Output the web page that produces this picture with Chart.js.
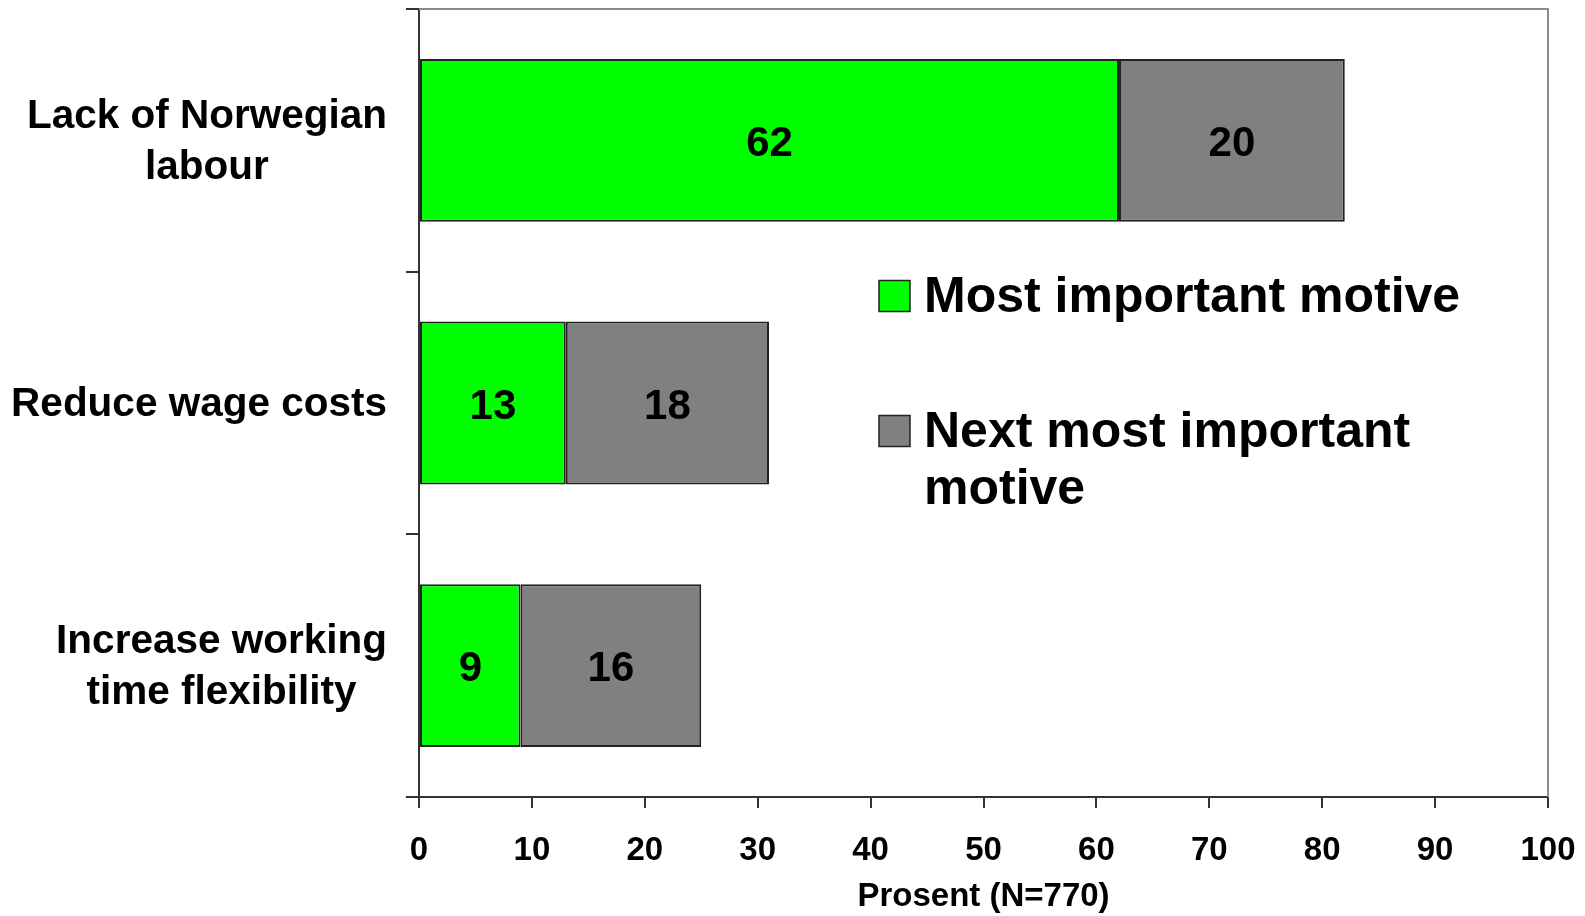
<!DOCTYPE html>
<html>
<head>
<meta charset="utf-8">
<title>Motives for hiring foreign labour</title>
<script src="https://cdn.jsdelivr.net/npm/chart.js@4.4.1/dist/chart.umd.min.js"></script>
<style>
  html, body { margin: 0; padding: 0; background: #ffffff; }
  #wrap { width: 1585px; height: 916px; }
</style>
</head>
<body>
<div id="wrap"><canvas id="chart" width="1585" height="916"></canvas></div>
<script>
// Categories (each entry is the wrapped lines of one label)
const categories = [
  ['Lack of Norwegian', 'labour'],
  ['Reduce wage costs'],
  ['Increase working', 'time flexibility']
];

// Share of firms (per cent) naming each motive
const mostImportant = [62, 13, 9];
const nextMostImportant = [20, 18, 16];

// Legend texts (wrapped lines)
const seriesNames = [
  ['Most important motive'],
  ['Next most important', 'motive']
];

const xTicks = [0, 10, 20, 30, 40, 50, 60, 70, 80, 90, 100];
const xTitle = 'Prosent (N=770)';

const FONT = '"Liberation Sans", Arial, Helvetica, sans-serif';

// Category labels: block right-aligned against the axis, lines centred within the block
const categoryLabels = {
  id: 'categoryLabels',
  afterDraw(chart) {
    const ctx = chart.ctx;
    const y = chart.scales.y;
    const rightEdge = 387;
    const lh = 51;
    ctx.save();
    ctx.font = 'bold 40.5px ' + FONT;
    ctx.fillStyle = '#000';
    ctx.textAlign = 'center';
    ctx.textBaseline = 'middle';
    categories.forEach((lines, i) => {
      const widest = Math.max(...lines.map(l => ctx.measureText(l).width));
      const cx = rightEdge - widest / 2;
      const cy = y.getPixelForTick(i) + 2;
      const y0 = cy - (lines.length - 1) * lh / 2;
      lines.forEach((l, k) => ctx.fillText(l, cx, y0 + k * lh));
    });
    ctx.restore();
  }
};

// Value written in the middle of every bar segment
const valueLabels = {
  id: 'valueLabels',
  afterDatasetsDraw(chart) {
    const ctx = chart.ctx;
    ctx.save();
    ctx.font = 'bold 42px ' + FONT;
    ctx.fillStyle = '#000';
    ctx.textAlign = 'center';
    ctx.textBaseline = 'middle';
    chart.data.datasets.forEach((ds, di) => {
      chart.getDatasetMeta(di).data.forEach((bar, i) => {
        const p = bar.getCenterPoint();
        ctx.fillText(String(ds.data[i]), p.x, p.y + 4);
      });
    });
    ctx.restore();
  }
};

// Grey frame on the top and right of the plot area
const plotFrame = {
  id: 'plotFrame',
  beforeDatasetsDraw(chart) {
    const { ctx, chartArea: a } = chart;
    ctx.save();
    ctx.strokeStyle = '#8c8c8c';
    ctx.lineWidth = 2;
    ctx.beginPath();
    ctx.moveTo(a.left, a.top);
    ctx.lineTo(a.right, a.top);
    ctx.lineTo(a.right, a.bottom);
    ctx.stroke();
    ctx.restore();
  }
};

// Legend placed inside the plot area
const innerLegend = {
  id: 'innerLegend',
  afterDraw(chart) {
    const ctx = chart.ctx;
    const a = chart.chartArea;
    const boxX = a.left + 460;
    const textX = a.left + 505;
    const rows = [296, 431];
    const lh = 57;
    const box = 31;
    ctx.save();
    ctx.font = 'bold 50px ' + FONT;
    ctx.textAlign = 'left';
    ctx.textBaseline = 'middle';
    chart.data.datasets.forEach((ds, i) => {
      const cy = rows[i];
      ctx.fillStyle = ds.backgroundColor;
      ctx.fillRect(boxX, cy - box / 2, box, box);
      ctx.strokeStyle = '#222';
      ctx.lineWidth = 1.5;
      ctx.strokeRect(boxX, cy - box / 2, box, box);
      ctx.fillStyle = '#000';
      seriesNames[i].forEach((l, k) => ctx.fillText(l, textX, cy + k * lh + 2));
    });
    ctx.restore();
  }
};

new Chart(document.getElementById('chart'), {
  type: 'bar',
  data: {
    labels: categories.map(c => c.join(' ')),
    datasets: [
      {
        label: seriesNames[0].join(' '),
        data: mostImportant,
        backgroundColor: '#00ff00',
        borderColor: '#222222',
        borderWidth: 2,
        borderSkipped: false,
        barPercentage: 0.62,
        categoryPercentage: 1
      },
      {
        label: seriesNames[1].join(' '),
        data: nextMostImportant,
        backgroundColor: '#808080',
        borderColor: '#222222',
        borderWidth: 2,
        borderSkipped: false,
        barPercentage: 0.62,
        categoryPercentage: 1
      }
    ]
  },
  options: {
    indexAxis: 'y',
    responsive: false,
    animation: false,
    devicePixelRatio: 1,
    layout: { padding: { top: 9, right: 37, left: 0, bottom: 0 } },
    plugins: {
      legend: { display: false },
      tooltip: { enabled: false }
    },
    scales: {
      x: {
        stacked: true,
        min: 0,
        max: 100,
        afterBuildTicks(scale) {
          scale.ticks = xTicks.map(v => ({ value: v }));
        },
        afterFit(scale) {
          scale.height = 119;
          scale.paddingLeft = 0;
          scale.paddingRight = 0;
        },
        ticks: {
          color: '#000',
          padding: 23,
          font: { family: FONT, size: 33, weight: 'bold' },
          maxRotation: 0,
          autoSkip: false
        },
        grid: {
          drawOnChartArea: false,
          tickLength: 11,
          color: '#333',
          lineWidth: 2
        },
        border: { color: '#333', width: 2 },
        title: {
          display: true,
          text: xTitle,
          color: '#000',
          font: { family: FONT, size: 33, weight: 'bold' },
          padding: { top: 0, bottom: -1 }
        }
      },
      y: {
        stacked: true,
        offset: true,
        afterFit(scale) { scale.width = 419; },
        ticks: { display: false },
        grid: {
          offset: true,
          drawOnChartArea: false,
          tickLength: 13,
          color: '#333',
          lineWidth: 2
        },
        border: { color: '#333', width: 2 }
      }
    }
  },
  plugins: [plotFrame, valueLabels, categoryLabels, innerLegend]
});
</script>
</body>
</html>
